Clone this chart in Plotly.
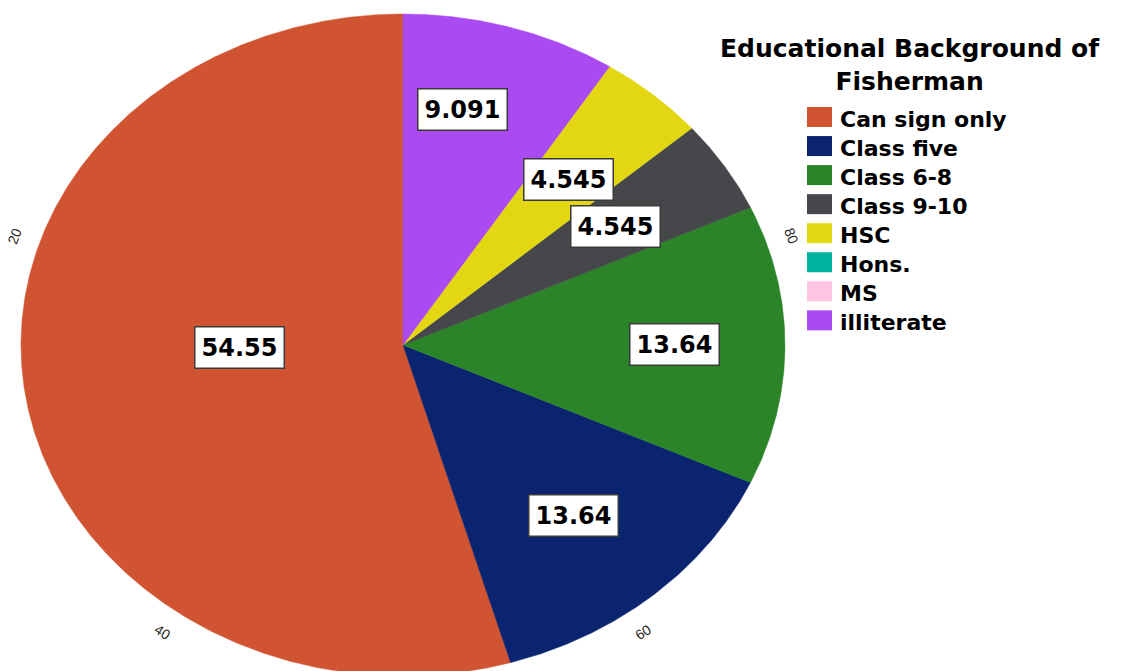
import numpy as np
import plotly.graph_objects as go

# Educational background of fishermen (percent of respondents)
categories = ["Can sign only", "Class five", "Class 6-8", "Class 9-10",
              "HSC", "Hons.", "MS", "illiterate"]
percentages = [54.55, 13.64, 13.64, 4.545, 4.545, 0, 0, 9.091]
tick_labels = [20, 40, 60, 80]

colors = ["#D05432", "#0B2470", "#2B8528", "#46474A",
          "#E3D711", "#00B3A1", "#FFC4E1", "#AA4AF2"]
# placement of each value box: fraction of the radius and angular nudge (deg)
label_radius = [0.427, 0.68, 0.71, 0.66, 0.66, 0.70, 0.70, 0.727]
label_nudge = [-7.0, 0, 0, 0, 0, 0, 0, 4.0]

W, H = 1136, 671
CX, CY = 403, 345          # pie centre in pixels
RX, RY = 382, 331          # elliptical radii in pixels

fig = go.Figure()

total = float(sum(percentages))
cum = np.concatenate([[0.0], np.cumsum(percentages)]) / total


def pt(theta, r=1.0):
    # slices run counter-clockwise starting at 12 o'clock
    return -np.sin(theta) * r, np.cos(theta) * r


annotations = []
for i, (cat, val) in enumerate(zip(categories, percentages)):
    if val <= 0:
        continue
    t0, t1 = 2 * np.pi * cum[i], 2 * np.pi * cum[i + 1]
    n = max(3, int(np.degrees(t1 - t0) * 3))
    th = np.linspace(t0, t1, n)
    xs, ys = pt(th)
    fig.add_trace(go.Scatter(
        x=np.r_[0, xs, 0], y=np.r_[0, ys, 0],
        mode="lines", fill="toself", fillcolor=colors[i],
        line=dict(color=colors[i], width=0.5),
        name=cat, showlegend=False, hoveron="fills",
        text=f"{cat}: {val:.4g}%", hoverinfo="text",
    ))
    mid = (t0 + t1) / 2 + np.radians(label_nudge[i])
    lx, ly = pt(mid, label_radius[i])
    annotations.append(dict(
        x=lx, y=ly, xref="x", yref="y", text=f"{val:.4g}", showarrow=False,
        font=dict(family="DejaVu Sans", size=24, color="black", weight="bold"),
        bgcolor="white", bordercolor="#3a3a3a", borderwidth=1.5, borderpad=6,
    ))

# scale labels around the rim
for t in tick_labels:
    th = 2 * np.pi * t / 100.0
    tx, ty = pt(th, 1.07)
    ang = np.degrees(np.arctan2(np.sin(th) * RY, -np.cos(th) * RX))
    if ang > 90:
        ang -= 180
    elif ang <= -90:
        ang += 180
    annotations.append(dict(
        x=tx, y=ty, xref="x", yref="y", text=str(t), showarrow=False,
        textangle=ang, font=dict(family="Liberation Sans", size=14, color="#222222"),
    ))

# title
annotations.append(dict(
    x=910 / W, y=1 - 65 / H, xref="paper", yref="paper",
    text="Educational Background of<br>Fisherman",
    showarrow=False, xanchor="center", yanchor="middle", align="center",
    font=dict(family="DejaVu Sans", size=25, color="black", weight="bold"),
))

# legend
shapes = []
for i, cat in enumerate(categories):
    yc = 117 + 29.05 * i
    shapes.append(dict(
        type="rect", xref="paper", yref="paper",
        x0=807 / W, x1=832 / W, y0=1 - (yc - 10) / H, y1=1 - (yc + 10) / H,
        fillcolor=colors[i], line=dict(width=0),
    ))
    annotations.append(dict(
        x=838 / W, y=1 - (yc + 2) / H, xref="paper", yref="paper", text=cat,
        showarrow=False, xanchor="left", yanchor="middle",
        font=dict(family="DejaVu Sans", size=22, color="black", weight="bold"),
    ))

fig.update_layout(
    width=W, height=H,
    margin=dict(l=0, r=0, t=0, b=0),
    paper_bgcolor="white", plot_bgcolor="white",
    xaxis=dict(range=[-CX / RX, (W - CX) / RX], visible=False, fixedrange=True),
    yaxis=dict(range=[-(H - CY) / RY, CY / RY], visible=False, fixedrange=True),
    annotations=annotations, shapes=shapes,
    showlegend=False,
)

fig.write_html("out.html")
